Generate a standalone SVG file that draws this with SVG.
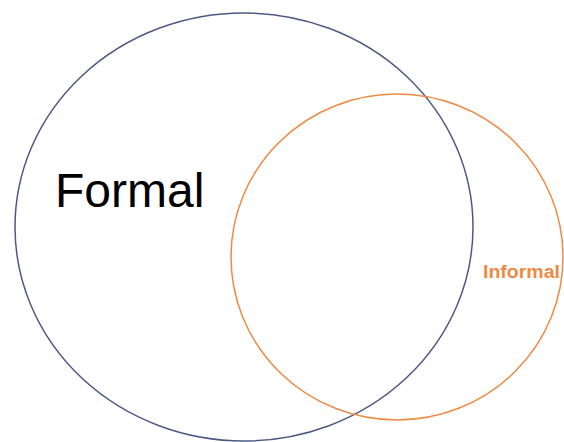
<svg xmlns="http://www.w3.org/2000/svg" width="564" height="442" viewBox="0 0 564 442">
  <style>
    .set { fill: none; stroke-width: 1.5; }
    .lbl { font-family: "Liberation Sans", Arial, sans-serif; }
  </style>
  <rect width="564" height="442" fill="#ffffff"/>
  <g id="formal">
    <ellipse class="set" cx="244" cy="227" rx="229" ry="214" stroke="#4a5a85"/>
    <text class="lbl" x="55" y="207" font-size="48" fill="#000000">Formal</text>
  </g>
  <g id="informal">
    <ellipse class="set" cx="397" cy="257" rx="166" ry="163" stroke="#ed8a45"/>
    <text class="lbl" x="483" y="278" font-size="18" font-weight="bold" fill="#ed8a45" textLength="77" lengthAdjust="spacingAndGlyphs">Informal</text>
  </g>
  <g id="connectors"/>
</svg>
